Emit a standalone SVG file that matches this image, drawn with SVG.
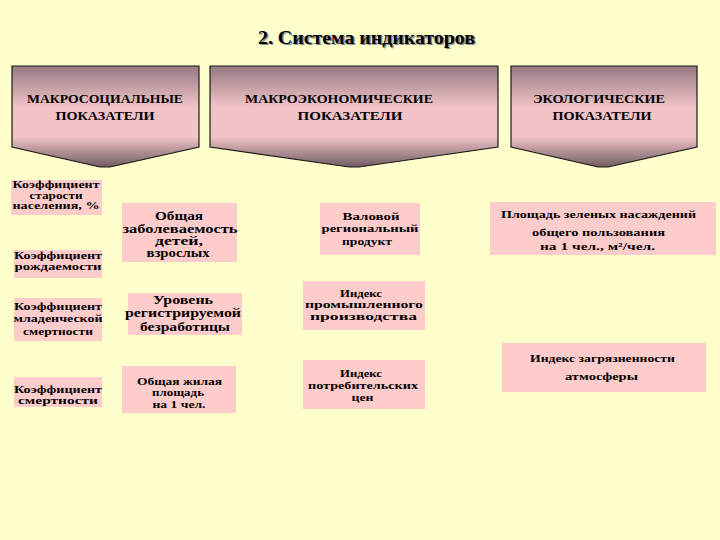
<svg xmlns="http://www.w3.org/2000/svg" width="720" height="540" viewBox="0 0 720 540">
<defs>
<linearGradient id="hg" x1="0" y1="0" x2="0" y2="1">
<stop offset="0" stop-color="#957981"/>
<stop offset="0.4" stop-color="#efc3c6"/>
<stop offset="0.7" stop-color="#f2c4c7"/>
<stop offset="1" stop-color="#6f5c62"/>
</linearGradient>
<style>
.hd{fill:url(#hg);stroke:#1a1a1a;stroke-width:1.2}
.bx{fill:#ffcccc}
text{font-weight:bold;fill:#000;text-anchor:middle}
.h{font-size:11.5px}
.s{font-size:11px}
.m{font-size:11.5px}
.l{font-size:12.5px}
</style>
</defs>
<rect width="720" height="540" fill="#ffffcc"/>
<g font-family="'Liberation Serif', 'DejaVu Serif', serif">
<g id="title">
<text x="368" y="45" font-size="19" textLength="217" lengthAdjust="spacingAndGlyphs" style="fill:#8a8a8a">2. Система индикаторов</text>
<text x="366.5" y="43.5" font-size="19" textLength="217" lengthAdjust="spacingAndGlyphs">2. Система индикаторов</text>
</g>
<g id="h1">
<path class="hd" d="M12,66 H199 V147 L110,167 H100 L12,147 Z"/>
<text class="h" x="105" y="103" textLength="156" lengthAdjust="spacingAndGlyphs">МАКРОСОЦИАЛЬНЫЕ</text>
<text class="h" x="105" y="120" textLength="99" lengthAdjust="spacingAndGlyphs">ПОКАЗАТЕЛИ</text>
</g>
<g id="h2">
<path class="hd" d="M210,66 H498 V147 L359,167 H349 L210,147 Z"/>
<text class="h" x="339" y="103" textLength="188" lengthAdjust="spacingAndGlyphs">МАКРОЭКОНОМИЧЕСКИЕ</text>
<text class="h" x="350" y="120" textLength="105" lengthAdjust="spacingAndGlyphs">ПОКАЗАТЕЛИ</text>
</g>
<g id="h3">
<path class="hd" d="M511,66 H697 V147 L608,167 H598 L511,147 Z"/>
<text class="h" x="599" y="103" textLength="132" lengthAdjust="spacingAndGlyphs">ЭКОЛОГИЧЕСКИЕ</text>
<text class="h" x="602" y="120" textLength="99" lengthAdjust="spacingAndGlyphs">ПОКАЗАТЕЛИ</text>
</g>
<g id="n1">
<rect class="bx" x="11" y="180" width="91" height="35"/>
<text class="s" x="56" y="188" textLength="87" lengthAdjust="spacingAndGlyphs">Коэффициент</text>
<text class="s" x="56" y="198.5" textLength="53" lengthAdjust="spacingAndGlyphs">старости</text>
<text class="s" x="56" y="209" textLength="87" lengthAdjust="spacingAndGlyphs">населения, %</text>
</g>
<g id="n2">
<rect class="bx" x="14" y="250" width="88" height="28"/>
<text class="s" x="58" y="259" textLength="88" lengthAdjust="spacingAndGlyphs">Коэффициент</text>
<text class="s" x="58" y="270" textLength="87" lengthAdjust="spacingAndGlyphs">рождаемости</text>
</g>
<g id="n3">
<rect class="bx" x="122" y="203" width="115" height="59"/>
<text class="l" x="179" y="220" textLength="48" lengthAdjust="spacingAndGlyphs">Общая</text>
<text class="m" x="180" y="232.5" textLength="115" lengthAdjust="spacingAndGlyphs">заболеваемость</text>
<text class="m" x="179" y="244.5" textLength="48" lengthAdjust="spacingAndGlyphs">детей,</text>
<text class="m" x="178" y="257" textLength="63" lengthAdjust="spacingAndGlyphs">взрослых</text>
</g>
<g id="n4">
<rect class="bx" x="14" y="298" width="88" height="43"/>
<text class="s" x="58" y="310" textLength="88" lengthAdjust="spacingAndGlyphs">Коэффициент</text>
<text class="s" x="58" y="322" textLength="89" lengthAdjust="spacingAndGlyphs">младенческой</text>
<text class="s" x="58" y="335" textLength="70" lengthAdjust="spacingAndGlyphs">смертности</text>
</g>
<g id="n5">
<rect class="bx" x="128" y="293" width="114" height="42"/>
<text class="l" x="183" y="304" textLength="60" lengthAdjust="spacingAndGlyphs">Уровень</text>
<text class="m" x="183" y="317" textLength="116" lengthAdjust="spacingAndGlyphs">регистрируемой</text>
<text class="m" x="185" y="331" textLength="90" lengthAdjust="spacingAndGlyphs">безработицы</text>
</g>
<g id="n6">
<rect class="bx" x="14" y="377" width="88" height="30"/>
<text class="s" x="58" y="393" textLength="88" lengthAdjust="spacingAndGlyphs">Коэффициент</text>
<text class="s" x="58" y="404" textLength="80" lengthAdjust="spacingAndGlyphs">смертности</text>
</g>
<g id="n7">
<rect class="bx" x="122" y="366" width="114" height="47"/>
<text class="s" x="179.5" y="385" textLength="85" lengthAdjust="spacingAndGlyphs">Общая жилая</text>
<text class="s" x="178" y="396" textLength="52" lengthAdjust="spacingAndGlyphs">площадь</text>
<text class="s" x="179" y="408" textLength="53" lengthAdjust="spacingAndGlyphs">на 1 чел.</text>
</g>
<g id="n8">
<rect class="bx" x="320" y="203" width="100" height="52"/>
<text class="s" x="371" y="220" textLength="57" lengthAdjust="spacingAndGlyphs">Валовой</text>
<text class="s" x="370" y="232" textLength="97" lengthAdjust="spacingAndGlyphs">региональный</text>
<text class="s" x="367" y="245" textLength="50" lengthAdjust="spacingAndGlyphs">продукт</text>
</g>
<g id="n9">
<rect class="bx" x="303" y="281" width="122" height="49"/>
<text class="s" x="361" y="297" textLength="42" lengthAdjust="spacingAndGlyphs">Индекс</text>
<text class="s" x="364" y="308" textLength="118" lengthAdjust="spacingAndGlyphs">промышленного</text>
<text class="s" x="363.5" y="320" textLength="107" lengthAdjust="spacingAndGlyphs">производства</text>
</g>
<g id="n10">
<rect class="bx" x="303" y="360" width="122" height="49"/>
<text class="s" x="361" y="377" textLength="42" lengthAdjust="spacingAndGlyphs">Индекс</text>
<text class="s" x="363" y="389" textLength="110" lengthAdjust="spacingAndGlyphs">потребительских</text>
<text class="s" x="362.5" y="401" textLength="22" lengthAdjust="spacingAndGlyphs">цен</text>
</g>
<g id="n11">
<rect class="bx" x="490" y="202" width="226" height="53"/>
<text class="s" x="598.5" y="218" textLength="195" lengthAdjust="spacingAndGlyphs">Площадь зеленых насаждений</text>
<text class="s" x="598.5" y="236" textLength="133" lengthAdjust="spacingAndGlyphs">общего пользования</text>
<text class="s" x="597.5" y="250" textLength="115" lengthAdjust="spacingAndGlyphs">на 1 чел., м²/чел.</text>
</g>
<g id="n12">
<rect class="bx" x="502" y="343" width="204" height="49"/>
<text class="s" x="602.5" y="362" textLength="145" lengthAdjust="spacingAndGlyphs">Индекс загрязненности</text>
<text class="s" x="601.5" y="380" textLength="73" lengthAdjust="spacingAndGlyphs">атмосферы</text>
</g>
</g>
<g id="connectors"/>
</svg>
